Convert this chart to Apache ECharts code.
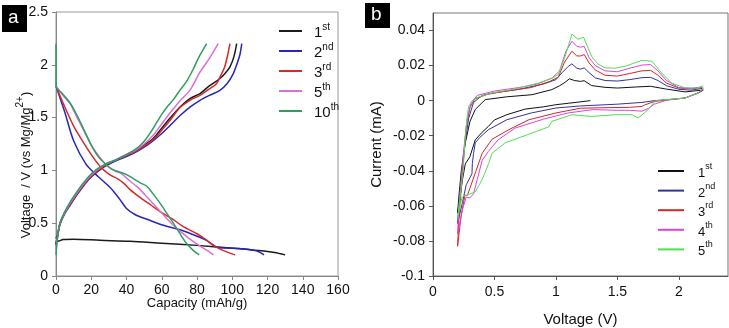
<!DOCTYPE html>
<html><head><meta charset="utf-8">
<script src="https://cdn.jsdelivr.net/npm/echarts@6/dist/echarts.min.js"></script>
<style>html,body{margin:0;padding:0;background:#fff}#c{width:729px;height:328px}</style>
</head><body><div id="c"></div>
<script>
// ---------- Panel a: capacity (mAh/g) vs voltage (V) ----------
const capTicksA = [0, 20, 40, 60, 80, 100, 120, 140, 160];
const voltTicksA = [0, 0.5, 1, 1.5, 2, 2.5];
const cyclesA = ['1st', '2nd', '3rd', '5th', '10th'];

const dis1 = [[0,0.37],[1.5,0.33],[4,0.345],[10,0.348],[25,0.338],[42,0.329],[60,0.31],[80,0.29],[99,0.265],[110,0.25],[118,0.237],[124,0.222],[130,0.2]];
const chg1 = [[0,0.3],[1,0.4],[2.3,0.5],[5,0.6],[8,0.68],[12,0.78],[15.5,0.86],[19,0.93],[23,0.99],[28,1.05],[34,1.1],[40,1.15],[45,1.19],[50,1.24],[55,1.3],[60,1.4],[65,1.5],[70.4,1.6],[76,1.68],[81.7,1.727],[87,1.8],[93,1.87],[96,1.92],[98.7,1.98],[101,2.08],[102.5,2.2]];

const dis2 = [[0,1.8],[5,1.55],[10,1.28],[17,1.06],[24,0.94],[30.6,0.84],[36,0.73],[40,0.64],[45,0.58],[52,0.535],[61,0.48],[70,0.44],[78,0.39],[85.5,0.338],[91,0.275],[97,0.265],[104,0.26],[112,0.243],[115,0.23],[118,0.2]];
const chg2 = [[0,0.3],[1,0.39],[2.3,0.49],[5,0.59],[8,0.67],[12,0.77],[15.5,0.85],[19,0.92],[23,0.98],[28,1.04],[34,1.09],[40,1.13],[45,1.17],[50,1.22],[55,1.28],[60,1.35],[65,1.43],[70.4,1.52],[76,1.6],[81.7,1.664],[87,1.71],[93,1.758],[97,1.82],[100.6,1.917],[102.5,2.0],[104.4,2.1],[105.4,2.2]];

const dis3 = [[0,1.8],[5,1.6],[10,1.42],[15,1.28],[20,1.15],[25,1.04],[30,0.965],[35,0.92],[38,0.884],[42,0.818],[48,0.74],[54,0.67],[60,0.6],[66,0.54],[72,0.47],[80,0.4],[85,0.345],[89.3,0.29],[95,0.24],[101.6,0.2]];
const chg3 = [[0,0.28],[1,0.39],[2.3,0.5],[5,0.6],[8,0.68],[12,0.78],[15.5,0.86],[19,0.93],[23,0.99],[28,1.05],[34,1.1],[40,1.14],[45,1.18],[50,1.23],[55,1.29],[60,1.38],[65,1.48],[70.4,1.595],[76,1.664],[81.7,1.711],[86,1.76],[91,1.82],[93.5,1.9],[95.7,1.98],[97.5,2.1],[98.7,2.2]];

const dis5 = [[0,1.8],[4,1.71],[8,1.63],[12,1.5],[16,1.37],[20,1.24],[25,1.12],[30,1.03],[34,0.99],[37,0.97],[42,0.9],[47,0.83],[52,0.74],[57,0.65],[62,0.56],[66,0.49],[70,0.43],[76,0.35],[82,0.28],[86,0.24],[89.3,0.2]];
const chg5 = [[0,0.25],[1,0.39],[2.3,0.5],[5,0.6],[8,0.69],[12,0.79],[15.5,0.87],[19,0.94],[23,1.0],[28,1.06],[34,1.1],[40,1.15],[45,1.19],[50,1.25],[55,1.33],[60,1.44],[65,1.55],[70.4,1.66],[76,1.76],[81.7,1.93],[87.4,2.07],[92,2.2]];

const dis10 = [[0,2.2],[0,1.8],[4,1.72],[8,1.64],[12,1.52],[16,1.38],[20,1.24],[24,1.13],[28,1.06],[32,1.01],[36,0.985],[40,0.96],[44,0.92],[48,0.88],[51.5,0.85],[55,0.78],[59,0.69],[63,0.59],[66.6,0.5],[70,0.41],[74,0.31],[78,0.24],[81.3,0.2]];
const chg10 = [[0,0.2],[1,0.38],[2.3,0.5],[5,0.61],[8,0.7],[12,0.8],[15.5,0.88],[19,0.95],[23,1.01],[28,1.06],[34,1.1],[40,1.15],[45,1.2],[48,1.24],[50.5,1.285],[53.3,1.35],[57,1.45],[60,1.53],[63,1.6],[66.6,1.67],[70.4,1.76],[74,1.84],[77.9,1.96],[81,2.07],[85.5,2.2]];

// ---------- Panel b: CV, voltage (V) vs current (mA) ----------
const voltTicksB = [0, 0.5, 1, 1.5, 2];
const currTicksB = [-0.1, -0.08, -0.06, -0.04, -0.02, 0, 0.02, 0.04];
const cyclesB = ['1st', '2nd', '3rd', '4th', '5th'];

const cv1 = [[1.28,0],[1.1,-0.0015],[1.0,-0.0023],[0.9,-0.0035],[0.75,-0.0048],[0.6,-0.008],[0.5,-0.011],[0.45,-0.0147],[0.4,-0.018],[0.344,-0.0223],[0.3,-0.032],[0.263,-0.036],[0.24,-0.045],[0.22,-0.055],[0.2,-0.064],[0.21,-0.055],[0.23,-0.04],[0.26,-0.025],[0.3,-0.012],[0.344,-0.005],[0.425,0.0006],[0.6,0.0022],[0.805,0.0034],[0.967,0.0063],[1.03,0.0085],[1.075,0.0105],[1.11,0.0125],[1.15,0.0115],[1.2,0.011],[1.23,0.0114],[1.29,0.0086],[1.4,0.0076],[1.5,0.0072],[1.65,0.0078],[1.77,0.0082],[1.89,0.0067],[2.05,0.005],[2.19,0.006]];
const cv2 = [[2.2,0.006],[2.16,0.0044],[2.05,0.0015],[1.9,0.0005],[1.8,0],[1.7,-0.001],[1.5,-0.002],[1.2,-0.003],[1.0,-0.0042],[0.8,-0.007],[0.6,-0.0109],[0.45,-0.0166],[0.38,-0.021],[0.344,-0.024],[0.33,-0.03],[0.32,-0.036],[0.317,-0.0417],[0.3,-0.044],[0.27,-0.048],[0.24,-0.058],[0.2,-0.07],[0.21,-0.06],[0.23,-0.045],[0.26,-0.025],[0.29,-0.01],[0.33,-0.001],[0.4,0.003],[0.5,0.0045],[0.7,0.0065],[0.9,0.0095],[1.0,0.012],[1.05,0.016],[1.1,0.0195],[1.13,0.021],[1.17,0.0185],[1.2,0.018],[1.23,0.0187],[1.27,0.016],[1.32,0.013],[1.4,0.0115],[1.5,0.0112],[1.6,0.012],[1.7,0.0131],[1.77,0.0133],[1.83,0.0115],[1.9,0.0085],[2.0,0.0065],[2.1,0.006],[2.19,0.007]];
const cv3 = [[2.2,0.0065],[2.16,0.0046],[2.05,0.0015],[1.9,0.0004],[1.8,-0.0005],[1.72,-0.0025],[1.7,-0.0033],[1.6,-0.0038],[1.4,-0.004],[1.2,-0.0043],[1.0,-0.007],[0.78,-0.0109],[0.615,-0.0166],[0.48,-0.022],[0.4,-0.03],[0.35,-0.04],[0.3,-0.05],[0.28,-0.054],[0.26,-0.054],[0.23,-0.065],[0.2,-0.083],[0.21,-0.068],[0.23,-0.05],[0.25,-0.032],[0.27,-0.015],[0.3,-0.004],[0.34,0.001],[0.45,0.0038],[0.6,0.0055],[0.8,0.0075],[0.95,0.011],[1.02,0.0135],[1.07,0.022],[1.13,0.0282],[1.17,0.0255],[1.2,0.0255],[1.23,0.0263],[1.27,0.0215],[1.32,0.0175],[1.4,0.0145],[1.5,0.014],[1.6,0.0155],[1.7,0.017],[1.77,0.0173],[1.83,0.0145],[1.9,0.01],[2.0,0.0072],[2.1,0.0068],[2.19,0.0075]];
const cv4 = [[2.2,0.007],[2.16,0.0045],[2.05,0.0015],[1.9,0.0003],[1.8,-0.002],[1.75,-0.0045],[1.7,-0.006],[1.6,-0.0055],[1.5,-0.0055],[1.3,-0.0051],[1.1,-0.007],[0.9,-0.0105],[0.669,-0.0156],[0.53,-0.0223],[0.45,-0.029],[0.4,-0.034],[0.36,-0.045],[0.33,-0.053],[0.3,-0.0555],[0.27,-0.055],[0.24,-0.062],[0.2,-0.076],[0.21,-0.062],[0.23,-0.045],[0.25,-0.028],[0.28,-0.01],[0.31,-0.001],[0.36,0.003],[0.5,0.0055],[0.7,0.0075],[0.85,0.0095],[0.97,0.013],[1.03,0.017],[1.08,0.028],[1.13,0.0339],[1.17,0.031],[1.2,0.0305],[1.23,0.031],[1.27,0.0245],[1.32,0.02],[1.4,0.017],[1.5,0.0165],[1.6,0.0185],[1.7,0.0203],[1.77,0.0206],[1.83,0.017],[1.9,0.0115],[2.0,0.0075],[2.1,0.007],[2.19,0.0078]];
const cv5 = [[2.2,0.0075],[2.16,0.0044],[2.05,0.0015],[1.89,0.0006],[1.81,0],[1.75,-0.0051],[1.67,-0.0099],[1.62,-0.008],[1.48,-0.008],[1.29,-0.009],[1.13,-0.008],[0.967,-0.0118],[0.94,-0.015],[0.805,-0.0185],[0.588,-0.024],[0.48,-0.03],[0.452,-0.036],[0.4,-0.045],[0.344,-0.052],[0.29,-0.0535],[0.236,-0.055],[0.2,-0.067],[0.22,-0.055],[0.245,-0.04],[0.263,-0.02],[0.28,-0.008],[0.29,-0.0033],[0.344,0.0015],[0.48,0.0044],[0.669,0.0067],[0.859,0.0101],[0.96,0.0125],[1.02,0.0149],[1.075,0.0253],[1.13,0.038],[1.18,0.035],[1.225,0.0362],[1.29,0.0253],[1.34,0.021],[1.4,0.0187],[1.48,0.0185],[1.563,0.0196],[1.7,0.023],[1.78,0.0225],[1.86,0.0158],[1.94,0.0101],[2.05,0.0073],[2.15,0.0072],[2.2,0.0085]];

const colorsA = ['#1a1a1a', '#2626b8', '#d42a2a', '#d870d8', '#2e9e5e'];
const colorsB = ['#111111', '#33339e', '#d02828', '#e040e0', '#4fe04f'];
const FONT = 'Liberation Sans, Arial, sans-serif';

const pairsA = [[dis1, chg1], [dis2, chg2], [dis3, chg3], [dis5, chg5], [dis10, chg10]];
const curvesB = [cv1, cv2, cv3, cv4, cv5];

const series = [];
pairsA.forEach((p, i) => {
  p.forEach(d => series.push({
    type: 'line', name: 'a' + cyclesA[i], xAxisIndex: 0, yAxisIndex: 0,
    data: d, showSymbol: false, smooth: 0.3, silent: true,
    lineStyle: { color: colorsA[i], width: 1.5 }, itemStyle: { color: colorsA[i] }
  }));
});
curvesB.forEach((d, i) => series.push({
  type: 'line', name: 'b' + cyclesB[i], xAxisIndex: 1, yAxisIndex: 1,
  data: d, showSymbol: false, smooth: false, silent: true,
  lineStyle: { color: colorsB[i], width: 1 }, itemStyle: { color: colorsB[i] }
}));

function supFmt(name) {
  const s = name.slice(1);
  const m = s.match(/^(\d+)(\D+)$/);
  return '{sp|}{n|' + m[1] + '}{s|' + m[2] + '}';
}
function legendStyle(big) {
  return {
    fontFamily: FONT, color: '#111',
    rich: {
      sp: { width: big ? 7 : 9 },
      n: { fontSize: big ? 15 : 13, lineHeight: 18, verticalAlign: 'bottom', fontFamily: FONT, color: '#111' },
      s: { fontSize: big ? 10 : 9, lineHeight: 10, verticalAlign: 'top', fontFamily: FONT, color: '#111' }
    }
  };
}

const axisCommon = (color) => ({
  nameMoveOverlap: false,
  axisLine: { show: true, onZero: false, lineStyle: { color: color, width: 1 } },
  axisTick: { show: true, length: 4, lineStyle: { color: color } },
  splitLine: { show: false },
});

const chart = echarts.init(document.getElementById('c'), null, { renderer: 'canvas' });
chart.setOption({
  animation: false,
  backgroundColor: '#fff',
  grid: [
    { left: 56, top: 12, right: 391, bottom: 52, show: true, borderColor: '#999', borderWidth: 1, outerBoundsMode: 'none', containLabel: false },
    { left: 433, top: 13, right: 1, bottom: 52, show: true, borderColor: '#777', borderWidth: 1, outerBoundsMode: 'none', containLabel: false }
  ],
  xAxis: [
    Object.assign({ gridIndex: 0, type: 'value', min: capTicksA[0], max: capTicksA[capTicksA.length - 1], interval: 20,
      name: 'Capacity (mAh/g)', nameLocation: 'middle', nameGap: 21,
      nameTextStyle: { fontFamily: FONT, fontSize: 13, color: '#111' },
      axisLabel: { fontFamily: FONT, fontSize: 14, color: '#111', margin: 7 } }, axisCommon('#888')),
    Object.assign({ gridIndex: 1, type: 'value', min: 0, max: 2.4, interval: 0.5,
      name: 'Voltage (V)', nameLocation: 'middle', nameGap: 36,
      nameTextStyle: { fontFamily: FONT, fontSize: 15, color: '#111' },
      axisLabel: { fontFamily: FONT, fontSize: 14, color: '#111', margin: 9, showMaxLabel: false } }, axisCommon('#555'))
  ],
  yAxis: [
    Object.assign({ gridIndex: 0, type: 'value', min: voltTicksA[0], max: voltTicksA[voltTicksA.length - 1], interval: 0.5,
      name: '{t|Voltage  / V (vs Mg/Mg}{s|2+}{t|)}', nameLocation: 'middle', nameGap: 23, nameRotate: 90,
      nameTextStyle: { fontFamily: FONT, fontSize: 13, color: '#111', padding: [0, 42, 0, 0],
        rich: { t: { fontFamily: FONT, fontSize: 13, color: '#111', lineHeight: 18, verticalAlign: 'bottom' },
                s: { fontFamily: FONT, fontSize: 10, color: '#111', lineHeight: 10, verticalAlign: 'top' } } },
      axisLabel: { fontFamily: FONT, fontSize: 14, color: '#111', margin: 8 } }, axisCommon('#888')),
    Object.assign({ gridIndex: 1, type: 'value', min: currTicksB[0], max: 0.05, interval: 0.02,
      name: 'Current (mA)', nameLocation: 'middle', nameGap: 49, nameRotate: 90,
      nameTextStyle: { fontFamily: FONT, fontSize: 15, color: '#111' },
      axisLabel: { fontFamily: FONT, fontSize: 14, color: '#111', margin: 8, showMaxLabel: false,
        formatter: v => String(Math.round(v * 100) / 100) } }, axisCommon('#555'))
  ],
  legend: [
    { orient: 'vertical', left: 274, top: 17, itemWidth: 23, itemHeight: 2, itemGap: 2, icon: 'rect',
      data: cyclesA.map(c => 'a' + c), formatter: supFmt, textStyle: legendStyle(true), selectedMode: false },
    { orient: 'vertical', left: 653, top: 157, itemWidth: 26, itemHeight: 2, itemGap: 1.6, icon: 'rect',
      data: cyclesB.map(c => 'b' + c), formatter: supFmt, textStyle: legendStyle(false), selectedMode: false }
  ],
  graphic: [
    { type: 'rect', left: 2, top: 5, shape: { width: 25, height: 27 }, style: { fill: '#000' } },
    { type: 'text', left: 8, top: 8, style: { text: 'a', fill: '#fff', font: '19px Liberation Sans, Arial, sans-serif' } },
    { type: 'rect', left: 365, top: 3, shape: { width: 25, height: 25 }, style: { fill: '#000' } },
    { type: 'text', left: 371, top: 5, style: { text: 'b', fill: '#fff', font: '19px Liberation Sans, Arial, sans-serif' } }
  ],
  series: series
});
</script></body></html>
